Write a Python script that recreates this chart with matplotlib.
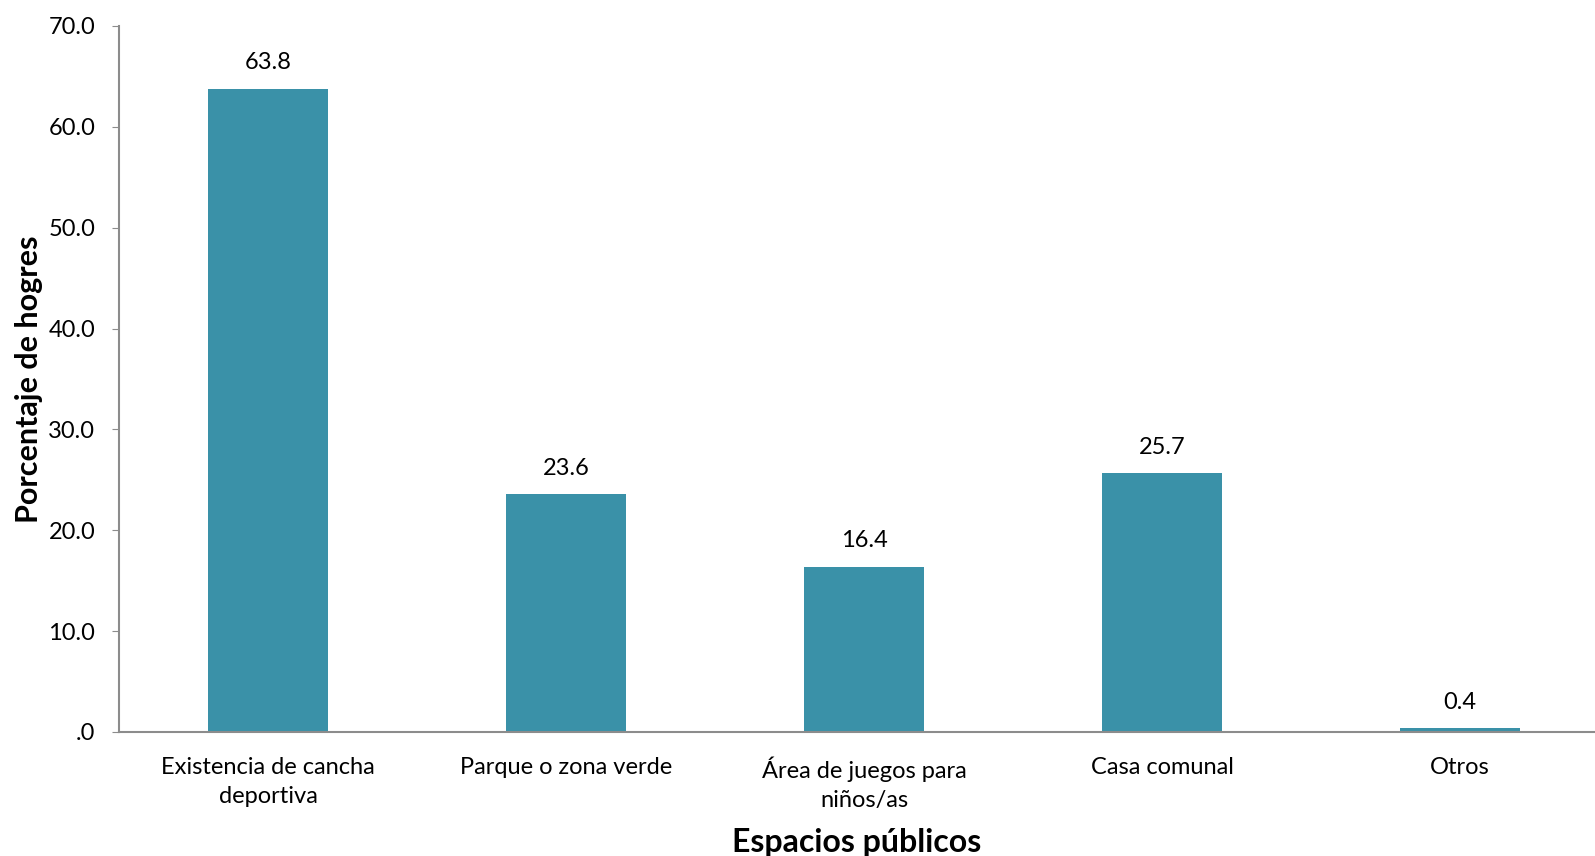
import numpy as np
import matplotlib.pyplot as plt

plt.rcParams['font.family'] = ['Lato', 'DejaVu Sans']

# datos
categorias = ['Existencia de cancha\ndeportiva', 'Parque o zona verde',
              'Área de juegos para\nniños/as', 'Casa comunal', 'Otros']
porcentajes = [63.8, 23.6, 16.4, 25.7, 0.4]
yticks = [0, 10, 20, 30, 40, 50, 60, 70]
ytick_labels = ['.0', '10.0', '20.0', '30.0', '40.0', '50.0', '60.0', '70.0']

fig = plt.figure(figsize=(15.95, 8.56), dpi=100)
ax = fig.add_axes([119 / 1595, 1 - 732 / 856, 1476 / 1595, 706 / 856])

x = np.arange(len(categorias))
barras = ax.bar(x, porcentajes, width=0.4, color='#3A91A8')

for b, v in zip(barras, porcentajes):
    ax.text(b.get_x() + b.get_width() / 2, v + 1.5, f'{v:.1f}',
            ha='center', va='bottom', fontsize=17)

ax.set_xlim(-0.5, -0.5 + 1476 / 298)
ax.set_ylim(0, 70)
ax.set_yticks(yticks)
ax.set_yticklabels(ytick_labels, fontsize=17)
ax.set_xticks(x)
ax.set_xticklabels(categorias, fontsize=17)
for lbl in ax.get_xticklabels():
    lbl.set_linespacing(1.45)
ax.tick_params(axis='x', length=0, pad=18)
ax.tick_params(axis='y', length=5, color='#8c8c8c', pad=12)

for s in ['top', 'right']:
    ax.spines[s].set_visible(False)
for s in ['left', 'bottom']:
    ax.spines[s].set_color('#8c8c8c')
    ax.spines[s].set_linewidth(1.5)

ax.set_xlabel('Espacios públicos', fontsize=23, fontweight='bold', labelpad=12)
ax.set_ylabel('Porcentaje de hogres', fontsize=22, fontweight='bold', labelpad=4)

fig.savefig('out.png', dpi=100)
